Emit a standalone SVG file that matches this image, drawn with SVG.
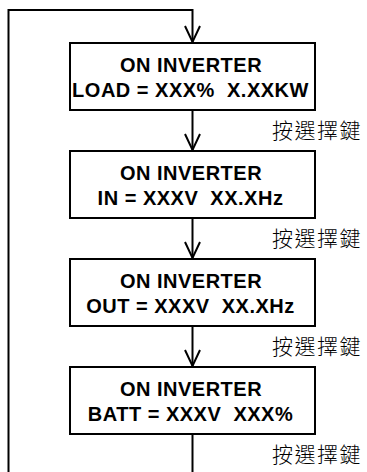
<svg xmlns="http://www.w3.org/2000/svg" width="367" height="472" viewBox="0 0 367 472">
<style>
.box{fill:#fff;stroke:#000;stroke-width:2}
.ln{fill:none;stroke:#000;stroke-width:2}
.ah{fill:none;stroke:#000;stroke-width:2}
.t{font-family:"Liberation Sans",Arial,sans-serif;font-weight:bold;font-size:20px;letter-spacing:0.5px;text-anchor:middle;fill:#000}
.k{font-family:"Noto Sans CJK TC","Noto Sans CJK SC",sans-serif;font-size:21px;font-weight:300;fill:#000;letter-spacing:1.5px}
</style>
<g id="connectors">
<path class="ln" d="M8.5,472 L8.5,10 L192.5,10 L192.5,42"/>
<path class="ah" d="M185,26 L192.5,42 L200,26"/>
<path class="ln" d="M192.5,110 L192.5,150"/>
<path class="ah" d="M185,134 L192.5,150 L200,134"/>
<path class="ln" d="M192.5,218 L192.5,258"/>
<path class="ah" d="M185,242 L192.5,258 L200,242"/>
<path class="ln" d="M192.5,326 L192.5,366"/>
<path class="ah" d="M185,350 L192.5,366 L200,350"/>
<path class="ln" d="M192.5,434 L192.5,472"/>
</g>
<g id="n1">
<rect class="box" x="70" y="43" width="245" height="67"/>
<text class="t" x="191" y="71.5">ON INVERTER</text>
<text class="t" x="190.5" y="96.5" xml:space="preserve">LOAD = XXX%  X.XXKW</text>
</g>
<g id="n2">
<rect class="box" x="70" y="151" width="245" height="67"/>
<text class="t" x="191" y="179.5">ON INVERTER</text>
<text class="t" x="190.5" y="204.5" xml:space="preserve">IN = XXXV  XX.XHz</text>
</g>
<g id="n3">
<rect class="box" x="70" y="259" width="245" height="67"/>
<text class="t" x="191" y="287.5">ON INVERTER</text>
<text class="t" x="190.5" y="312.5" xml:space="preserve">OUT = XXXV  XX.XHz</text>
</g>
<g id="n4">
<rect class="box" x="70" y="367" width="245" height="67"/>
<text class="t" x="191" y="395.5">ON INVERTER</text>
<text class="t" x="190.5" y="420.5" xml:space="preserve">BATT = XXXV  XXX%</text>
</g>
<g id="labels">
<text class="k" x="272" y="137.5">按選擇鍵</text>
<text class="k" x="272" y="245.5">按選擇鍵</text>
<text class="k" x="272" y="353.5">按選擇鍵</text>
<text class="k" x="272" y="461.5">按選擇鍵</text>
</g>
</svg>
